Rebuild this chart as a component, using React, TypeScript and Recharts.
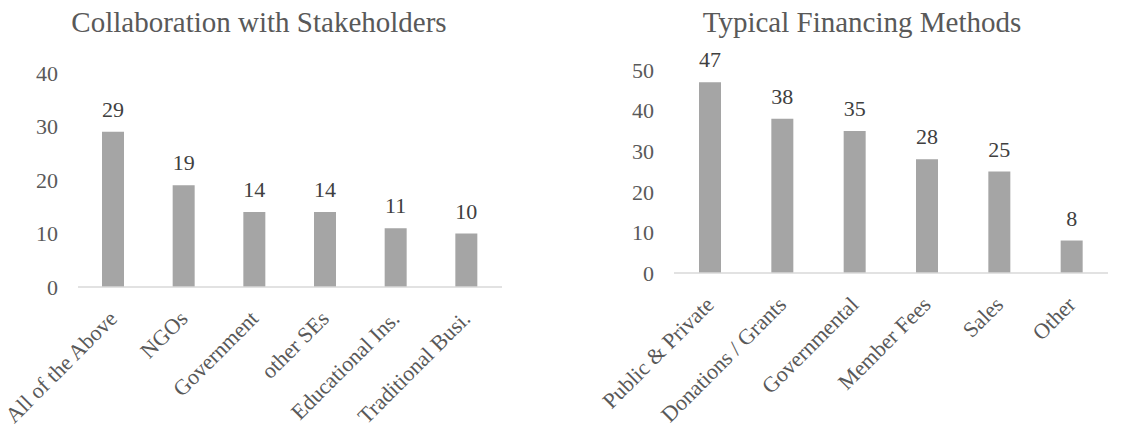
import React from 'react';
import { BarChart, Bar, XAxis, YAxis, LabelList } from 'recharts';

const collabCategories = ['All of the Above', 'NGOs', 'Government', 'other SEs', 'Educational Ins.', 'Traditional Busi.'];
const collabValues = [29, 19, 14, 14, 11, 10];
const collabTicks = [0, 10, 20, 30, 40];

const financeCategories = ['Public & Private', 'Donations / Grants', 'Governmental', 'Member Fees', 'Sales', 'Other'];
const financeValues = [47, 38, 35, 28, 25, 8];
const financeTicks = [0, 10, 20, 30, 40, 50];

const collabData = collabCategories.map((name, i) => ({ name, value: collabValues[i] }));
const financeData = financeCategories.map((name, i) => ({ name, value: financeValues[i] }));

const FONT = '"Liberation Serif", "Times New Roman", serif';
const TEXT = '#595959';
const BAR = '#a5a5a5';
const AXIS = '#d9d9d9';

const RotTick = (props: any) => {
  const { x, y, payload } = props;
  const ax = x + 5;
  const ay = y + 25;
  return (
    <text
      x={ax}
      y={ay}
      transform={`rotate(-45, ${ax}, ${ay})`}
      textAnchor="end"
      fill={TEXT}
      fontSize={22}
      fontFamily={FONT}
    >
      {payload.value}
    </text>
  );
};

const Title = ({ text, left, width }: { text: string; left: number; width: number }) => (
  <div
    style={{
      position: 'absolute',
      left,
      top: 4,
      width,
      textAlign: 'center',
      fontFamily: FONT,
      fontSize: 29,
      color: TEXT,
      lineHeight: '36px',
      whiteSpace: 'nowrap',
    }}
  >
    {text}
  </div>
);

export default function App() {
  return (
    <div style={{ position: 'absolute', left: 0, top: 0, width: 1148, height: 432, background: '#fff', overflow: 'hidden' }}>
      <Title text="Collaboration with Stakeholders" left={0} width={518} />
      <Title text="Typical Financing Methods" left={580} width={564} />
      <div style={{ position: 'absolute', left: 0, top: 0 }}>
        <BarChart width={580} height={432} data={collabData} margin={{ top: 73, right: 78, bottom: 0, left: 0 }}>
          <XAxis
            dataKey="name"
            axisLine={{ stroke: AXIS, strokeWidth: 1.5 }}
            tickLine={false}
            tick={<RotTick />}
            interval={0}
            height={145}
          />
          <YAxis
            width={78}
            domain={[0, 40]}
            ticks={collabTicks}
            axisLine={false}
            tickLine={false}
            tickSize={0}
            tickMargin={20}
            tick={{ fill: TEXT, fontSize: 22, fontFamily: FONT }}
          />
          <Bar dataKey="value" fill={BAR} barSize={22} isAnimationActive={false}>
            <LabelList dataKey="value" position="top" offset={15} fill="#404040" fontSize={22} fontFamily={FONT} />
          </Bar>
        </BarChart>
      </div>
      <div style={{ position: 'absolute', left: 580, top: 0 }}>
        <BarChart width={568} height={432} data={financeData} margin={{ top: 70, right: 40, bottom: 0, left: 0 }}>
          <XAxis
            dataKey="name"
            axisLine={{ stroke: AXIS, strokeWidth: 1.5 }}
            tickLine={false}
            tick={<RotTick />}
            interval={0}
            height={159}
          />
          <YAxis
            width={94}
            domain={[0, 50]}
            ticks={financeTicks}
            axisLine={false}
            tickLine={false}
            tickSize={0}
            tickMargin={20}
            tick={{ fill: TEXT, fontSize: 22, fontFamily: FONT }}
          />
          <Bar dataKey="value" fill={BAR} barSize={22} isAnimationActive={false}>
            <LabelList dataKey="value" position="top" offset={15} fill="#404040" fontSize={22} fontFamily={FONT} />
          </Bar>
        </BarChart>
      </div>
    </div>
  );
}
